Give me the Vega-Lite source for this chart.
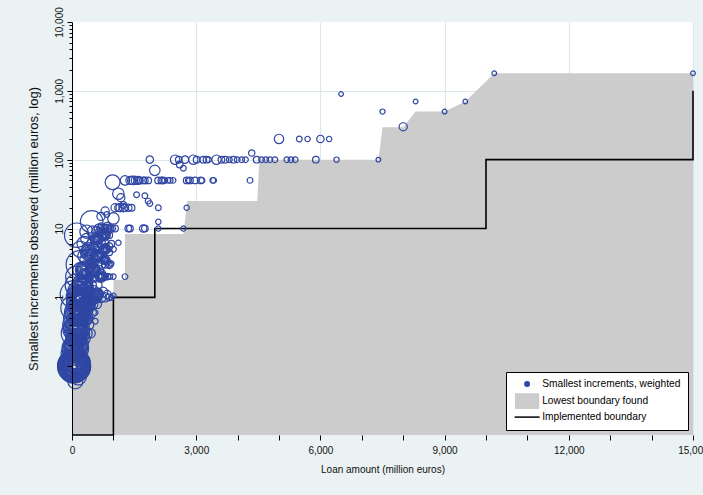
{
  "$schema": "https://vega.github.io/schema/vega-lite/v6.json",
  "width": 621,
  "height": 413,
  "autosize": {"type": "none"},
  "padding": {"left": 72, "top": 22, "right": 10, "bottom": 60},
  "background": "#eaf2f3",
  "config": {
    "view": {"fill": "white", "stroke": null},
    "font": "Liberation Sans",
    "legend": {
      "orient": "bottom-right", "offset": 5, "title": null,
      "strokeColor": "#000", "fillColor": "#fff", "padding": 7,
      "labelFontSize": 10.2, "labelColor": "#000", "labelFont": "Liberation Sans",
      "symbolSize": 20, "symbolStrokeWidth": 1.5, "rowPadding": 0, "labelOffset": 10, "symbolOffset": 9
    }
  },
  "datasets": {
    "bound": [
      {"a": 0, "s": 0.05}, {"a": 150, "s": 0.2}, {"a": 400, "s": 0.6}, {"a": 650, "s": 1},
      {"a": 1000, "s": 1}, {"a": 1001, "s": 1.8}, {"a": 1280, "s": 1.8}, {"a": 1281, "s": 8.3},
      {"a": 2690, "s": 8.3}, {"a": 2785, "s": 25}, {"a": 4475, "s": 25}, {"a": 4525, "s": 100},
      {"a": 7405, "s": 100}, {"a": 7500, "s": 295}, {"a": 8000, "s": 295}, {"a": 8300, "s": 500},
      {"a": 9000, "s": 500}, {"a": 9500, "s": 700}, {"a": 10200, "s": 1800}, {"a": 15000, "s": 1800}
    ],
    "impl": [
      {"i": 1, "a": 0, "s": 0.01}, {"i": 2, "a": 1000, "s": 1}, {"i": 3, "a": 2000, "s": 10}, {"i": 4, "a": 10000, "s": 100}, {"i": 5, "a": 15000, "s": 1000}
    ],
    "pts": [
      {"a": 10200, "s": 1800, "w": 1}, {"a": 15000, "s": 1800, "w": 1}, {"a": 6500, "s": 900, "w": 1}, {"a": 9500, "s": 700, "w": 1},
      {"a": 8300, "s": 700, "w": 1}, {"a": 7500, "s": 500, "w": 1.2}, {"a": 9000, "s": 500, "w": 1}, {"a": 8000, "s": 300, "w": 3},
      {"a": 5000, "s": 200, "w": 4}, {"a": 5490, "s": 200, "w": 1.5}, {"a": 5690, "s": 200, "w": 1.3}, {"a": 6000, "s": 200, "w": 2.5},
      {"a": 6210, "s": 200, "w": 1.3}, {"a": 4340, "s": 125, "w": 1.8},
      {"a": 1880, "s": 100, "w": 2.5}, {"a": 2490, "s": 100, "w": 4}, {"a": 2580, "s": 100, "w": 2}, {"a": 2730, "s": 100, "w": 2.5},
      {"a": 2930, "s": 100, "w": 4}, {"a": 3010, "s": 100, "w": 2}, {"a": 3170, "s": 100, "w": 2}, {"a": 3250, "s": 100, "w": 2},
      {"a": 3300, "s": 100, "w": 1.5}, {"a": 3490, "s": 100, "w": 4}, {"a": 3610, "s": 100, "w": 2}, {"a": 3700, "s": 100, "w": 2},
      {"a": 3800, "s": 100, "w": 1.5}, {"a": 3900, "s": 100, "w": 2}, {"a": 3990, "s": 100, "w": 1.5}, {"a": 4100, "s": 100, "w": 1.5},
      {"a": 4190, "s": 100, "w": 1.5}, {"a": 4460, "s": 100, "w": 2}, {"a": 4580, "s": 100, "w": 1.5}, {"a": 4680, "s": 100, "w": 1.5},
      {"a": 4780, "s": 100, "w": 1.5}, {"a": 4900, "s": 100, "w": 1.5}, {"a": 5190, "s": 100, "w": 1.5}, {"a": 5290, "s": 100, "w": 1.5},
      {"a": 5390, "s": 100, "w": 1.5}, {"a": 5890, "s": 100, "w": 2}, {"a": 6390, "s": 100, "w": 1.3}, {"a": 7400, "s": 100, "w": 1},
      {"a": 2000, "s": 70, "w": 5}, {"a": 2600, "s": 85, "w": 2}, {"a": 2690, "s": 75, "w": 1.5},
      {"a": 980, "s": 47, "w": 10}, {"a": 1280, "s": 50, "w": 4}, {"a": 1400, "s": 50, "w": 3}, {"a": 1440, "s": 50, "w": 3},
      {"a": 1480, "s": 50, "w": 3.5}, {"a": 1530, "s": 50, "w": 3}, {"a": 1600, "s": 50, "w": 3}, {"a": 1640, "s": 50, "w": 2},
      {"a": 1720, "s": 50, "w": 2}, {"a": 1760, "s": 50, "w": 2}, {"a": 1840, "s": 50, "w": 2}, {"a": 2080, "s": 50, "w": 2},
      {"a": 2160, "s": 50, "w": 2}, {"a": 2200, "s": 50, "w": 2}, {"a": 2240, "s": 50, "w": 1.5}, {"a": 2320, "s": 50, "w": 1.5},
      {"a": 2370, "s": 50, "w": 1.5}, {"a": 2440, "s": 50, "w": 1.5}, {"a": 2770, "s": 50, "w": 2}, {"a": 2810, "s": 50, "w": 1.5},
      {"a": 2850, "s": 50, "w": 2}, {"a": 2970, "s": 50, "w": 2}, {"a": 3110, "s": 50, "w": 2}, {"a": 3140, "s": 50, "w": 1.5},
      {"a": 3400, "s": 50, "w": 1.5}, {"a": 3420, "s": 50, "w": 1.5}, {"a": 4300, "s": 50, "w": 1.5},
      {"a": 1120, "s": 32, "w": 6}, {"a": 1180, "s": 28, "w": 3}, {"a": 1560, "s": 31, "w": 1.5}, {"a": 1760, "s": 30, "w": 1.5},
      {"a": 1840, "s": 25, "w": 1.5}, {"a": 1880, "s": 23, "w": 1.5}, {"a": 1240, "s": 22, "w": 2}, {"a": 2770, "s": 20, "w": 1.3},
      {"a": 1040, "s": 20, "w": 3}, {"a": 1120, "s": 20, "w": 2.5}, {"a": 1160, "s": 20, "w": 3}, {"a": 1240, "s": 20, "w": 3},
      {"a": 1280, "s": 20, "w": 2.5}, {"a": 1360, "s": 20, "w": 2.5}, {"a": 1440, "s": 20, "w": 2}, {"a": 2085, "s": 20, "w": 1.5},
      {"a": 840, "s": 16, "w": 1.5}, {"a": 1000, "s": 14, "w": 6}, {"a": 2085, "s": 12.5, "w": 1.3}, {"a": 700, "s": 15, "w": 3},
      {"a": 800, "s": 18, "w": 3}, {"a": 475, "s": 12.5, "w": 23}, {"a": 113, "s": 8, "w": 27},
      {"a": 760, "s": 10, "w": 3}, {"a": 840, "s": 10, "w": 3}, {"a": 920, "s": 10, "w": 2.5}, {"a": 960, "s": 10, "w": 2.5},
      {"a": 1040, "s": 10, "w": 2}, {"a": 1360, "s": 10, "w": 2}, {"a": 1400, "s": 10, "w": 2}, {"a": 1720, "s": 10, "w": 2.5},
      {"a": 1760, "s": 10, "w": 2}, {"a": 2085, "s": 10, "w": 1.3}, {"a": 2690, "s": 10, "w": 1.2},
      {"a": 700, "s": 10, "w": 3}, {"a": 750, "s": 9, "w": 2}, {"a": 800, "s": 10, "w": 1.5}, {"a": 850, "s": 11, "w": 2},
      {"a": 900, "s": 10, "w": 1.5}, {"a": 650, "s": 9, "w": 2}, {"a": 700, "s": 11, "w": 1.5},
      {"a": 600, "s": 9, "w": 5}, {"a": 700, "s": 8, "w": 4}, {"a": 800, "s": 8, "w": 3}, {"a": 850, "s": 9, "w": 2.5},
      {"a": 900, "s": 8, "w": 2}, {"a": 650, "s": 10, "w": 4}, {"a": 500, "s": 9, "w": 6}, {"a": 350, "s": 9, "w": 8},
      {"a": 300, "s": 6, "w": 10}, {"a": 400, "s": 5, "w": 8}, {"a": 500, "s": 6, "w": 6}, {"a": 600, "s": 5.5, "w": 5},
      {"a": 650, "s": 7, "w": 4}, {"a": 700, "s": 6, "w": 4}, {"a": 750, "s": 5, "w": 3.5}, {"a": 800, "s": 6, "w": 3},
      {"a": 850, "s": 5, "w": 2.5}, {"a": 900, "s": 5.5, "w": 2.5}, {"a": 950, "s": 6, "w": 2}, {"a": 1000, "s": 5, "w": 1.5},
      {"a": 1120, "s": 6.2, "w": 1.3}, {"a": 200, "s": 5, "w": 12}, {"a": 350, "s": 7, "w": 6}, {"a": 550, "s": 7, "w": 4},
      {"a": 450, "s": 4, "w": 6}, {"a": 600, "s": 5, "w": 2}, {"a": 700, "s": 5.5, "w": 1.5}, {"a": 800, "s": 5.5, "w": 1.5},
      {"a": 193, "s": 3, "w": 35}, {"a": 350, "s": 3.5, "w": 8}, {"a": 450, "s": 3, "w": 6}, {"a": 550, "s": 3.5, "w": 5},
      {"a": 600, "s": 3, "w": 5}, {"a": 650, "s": 4, "w": 4}, {"a": 700, "s": 3, "w": 4}, {"a": 750, "s": 3.5, "w": 3},
      {"a": 800, "s": 3, "w": 2.5}, {"a": 850, "s": 3.3, "w": 2}, {"a": 950, "s": 3.1, "w": 1.3}, {"a": 500, "s": 4, "w": 5},
      {"a": 300, "s": 4, "w": 8}, {"a": 500, "s": 3, "w": 3}, {"a": 500, "s": 3, "w": 1.5},
      {"a": 100, "s": 2, "w": 20}, {"a": 300, "s": 2, "w": 10}, {"a": 400, "s": 2.2, "w": 8}, {"a": 500, "s": 2, "w": 6},
      {"a": 600, "s": 2, "w": 5}, {"a": 700, "s": 2.2, "w": 4}, {"a": 750, "s": 2, "w": 3}, {"a": 800, "s": 2, "w": 2},
      {"a": 850, "s": 2, "w": 2}, {"a": 920, "s": 2, "w": 1.3}, {"a": 1000, "s": 2, "w": 1.3}, {"a": 1280, "s": 2, "w": 1.5},
      {"a": 200, "s": 2.5, "w": 10}, {"a": 650, "s": 2.5, "w": 4}, {"a": 300, "s": 2, "w": 7}, {"a": 300, "s": 2, "w": 4},
      {"a": 50, "s": 1.1, "w": 35}, {"a": 150, "s": 1.2, "w": 20}, {"a": 250, "s": 1, "w": 15}, {"a": 350, "s": 1.3, "w": 10},
      {"a": 400, "s": 1, "w": 10}, {"a": 500, "s": 1.2, "w": 8}, {"a": 550, "s": 1, "w": 7}, {"a": 600, "s": 1.1, "w": 6},
      {"a": 700, "s": 1, "w": 5}, {"a": 750, "s": 1.2, "w": 4}, {"a": 800, "s": 1, "w": 4}, {"a": 850, "s": 1.1, "w": 3},
      {"a": 900, "s": 1, "w": 2}, {"a": 950, "s": 1, "w": 1.3}, {"a": 1000, "s": 1.05, "w": 1.3}, {"a": 300, "s": 1.5, "w": 10},
      {"a": 450, "s": 1.5, "w": 6}, {"a": 600, "s": 1.5, "w": 5}, {"a": 100, "s": 1.5, "w": 22},
      {"a": 200, "s": 1, "w": 17}, {"a": 200, "s": 1, "w": 13}, {"a": 200, "s": 1, "w": 9}, {"a": 200, "s": 1, "w": 6}, {"a": 200, "s": 1, "w": 3},
      {"a": 400, "s": 1.2, "w": 7}, {"a": 400, "s": 1.2, "w": 4}, {"a": 400, "s": 1.2, "w": 2},
      {"a": 30, "s": 0.7, "w": 28}, {"a": 120, "s": 0.8, "w": 20}, {"a": 200, "s": 0.6, "w": 15}, {"a": 300, "s": 0.7, "w": 10},
      {"a": 400, "s": 0.8, "w": 8}, {"a": 450, "s": 0.6, "w": 6}, {"a": 560, "s": 0.6, "w": 1.5}, {"a": 560, "s": 0.45, "w": 1.5},
      {"a": 500, "s": 0.8, "w": 5}, {"a": 350, "s": 0.5, "w": 8}, {"a": 250, "s": 0.9, "w": 10}, {"a": 80, "s": 0.5, "w": 25},
      {"a": 600, "s": 0.8, "w": 4}, {"a": 300, "s": 0.8, "w": 8}, {"a": 300, "s": 0.8, "w": 5}, {"a": 300, "s": 0.8, "w": 3},
      {"a": 150, "s": 0.5, "w": 15}, {"a": 150, "s": 0.5, "w": 11}, {"a": 150, "s": 0.5, "w": 8}, {"a": 150, "s": 0.5, "w": 5}, {"a": 150, "s": 0.5, "w": 3},
      {"a": 40, "s": 0.3, "w": 28}, {"a": 150, "s": 0.35, "w": 15}, {"a": 250, "s": 0.3, "w": 10}, {"a": 350, "s": 0.3, "w": 6},
      {"a": 400, "s": 0.4, "w": 5}, {"a": 100, "s": 0.2, "w": 25}, {"a": 200, "s": 0.22, "w": 12}, {"a": 300, "s": 0.25, "w": 6},
      {"a": 450, "s": 0.3, "w": 4}, {"a": 30, "s": 0.4, "w": 20},
      {"a": 100, "s": 0.25, "w": 20}, {"a": 100, "s": 0.25, "w": 16}, {"a": 100, "s": 0.25, "w": 12}, {"a": 100, "s": 0.25, "w": 9},
      {"a": 100, "s": 0.25, "w": 6}, {"a": 100, "s": 0.25, "w": 4}, {"a": 100, "s": 0.25, "w": 2},
      {"a": 50, "s": 0.1, "w": 50}, {"a": 40, "s": 0.1, "w": 45}, {"a": 60, "s": 0.11, "w": 40}, {"a": 30, "s": 0.09, "w": 35},
      {"a": 70, "s": 0.1, "w": 30}, {"a": 50, "s": 0.12, "w": 25}, {"a": 40, "s": 0.1, "w": 20}, {"a": 60, "s": 0.09, "w": 15},
      {"a": 50, "s": 0.1, "w": 10}, {"a": 45, "s": 0.11, "w": 6}, {"a": 50, "s": 0.1, "w": 3},
      {"a": 100, "s": 0.12, "w": 30}, {"a": 20, "s": 0.15, "w": 25}, {"a": 200, "s": 0.1, "w": 15}, {"a": 150, "s": 0.07, "w": 12},
      {"a": 300, "s": 0.12, "w": 6}, {"a": 80, "s": 0.06, "w": 10},
      {"a": 60, "s": 0.1, "w": 47}, {"a": 60, "s": 0.1, "w": 42}, {"a": 60, "s": 0.1, "w": 38}, {"a": 60, "s": 0.1, "w": 34}, {"a": 60, "s": 0.1, "w": 30},
      {"a": 60, "s": 0.1, "w": 26}, {"a": 60, "s": 0.1, "w": 22}, {"a": 60, "s": 0.1, "w": 19}, {"a": 60, "s": 0.1, "w": 16}, {"a": 60, "s": 0.1, "w": 13},
      {"a": 60, "s": 0.1, "w": 10}, {"a": 60, "s": 0.1, "w": 8}, {"a": 60, "s": 0.1, "w": 6}, {"a": 60, "s": 0.1, "w": 4}, {"a": 60, "s": 0.1, "w": 2}, {"a": 60, "s": 0.1, "w": 1},
      {"a": 80, "s": 0.18, "w": 32}, {"a": 80, "s": 0.18, "w": 27}, {"a": 80, "s": 0.18, "w": 22}, {"a": 80, "s": 0.18, "w": 18}, {"a": 80, "s": 0.18, "w": 14},
      {"a": 80, "s": 0.18, "w": 11}, {"a": 80, "s": 0.18, "w": 8}, {"a": 80, "s": 0.18, "w": 5}, {"a": 80, "s": 0.18, "w": 3}, {"a": 80, "s": 0.18, "w": 1.5},
      {"a": 100, "s": 0.35, "w": 32}, {"a": 100, "s": 0.35, "w": 27}, {"a": 100, "s": 0.35, "w": 22}, {"a": 100, "s": 0.35, "w": 18}, {"a": 100, "s": 0.35, "w": 14},
      {"a": 100, "s": 0.35, "w": 11}, {"a": 100, "s": 0.35, "w": 8}, {"a": 100, "s": 0.35, "w": 5}, {"a": 100, "s": 0.35, "w": 3}, {"a": 100, "s": 0.35, "w": 1.5},
      {"a": 140, "s": 0.6, "w": 32}, {"a": 140, "s": 0.6, "w": 27}, {"a": 140, "s": 0.6, "w": 22}, {"a": 140, "s": 0.6, "w": 18}, {"a": 140, "s": 0.6, "w": 14},
      {"a": 140, "s": 0.6, "w": 11}, {"a": 140, "s": 0.6, "w": 8}, {"a": 140, "s": 0.6, "w": 5}, {"a": 140, "s": 0.6, "w": 3}, {"a": 140, "s": 0.6, "w": 1.5},
      {"a": 170, "s": 1, "w": 30}, {"a": 170, "s": 1, "w": 25}, {"a": 170, "s": 1, "w": 20}, {"a": 170, "s": 1, "w": 16}, {"a": 170, "s": 1, "w": 12},
      {"a": 170, "s": 1, "w": 9}, {"a": 170, "s": 1, "w": 6}, {"a": 170, "s": 1, "w": 4}, {"a": 170, "s": 1, "w": 2},
      {"a": 300, "s": 0.5, "w": 12}, {"a": 300, "s": 0.5, "w": 9}, {"a": 300, "s": 0.5, "w": 6}, {"a": 300, "s": 0.5, "w": 3},
      {"a": 250, "s": 1.5, "w": 20}, {"a": 250, "s": 1.5, "w": 16}, {"a": 250, "s": 1.5, "w": 12}, {"a": 250, "s": 1.5, "w": 9}, {"a": 250, "s": 1.5, "w": 6}, {"a": 250, "s": 1.5, "w": 3},
      {"a": 350, "s": 0.8, "w": 15}, {"a": 350, "s": 0.8, "w": 12}, {"a": 350, "s": 0.8, "w": 9}, {"a": 350, "s": 0.8, "w": 6}, {"a": 350, "s": 0.8, "w": 3},
      {"a": 450, "s": 1, "w": 12}, {"a": 450, "s": 1, "w": 9}, {"a": 450, "s": 1, "w": 6}, {"a": 450, "s": 1, "w": 4}, {"a": 450, "s": 1, "w": 2},
      {"a": 600, "s": 1.1, "w": 8}, {"a": 600, "s": 1.1, "w": 6}, {"a": 600, "s": 1.1, "w": 4}, {"a": 600, "s": 1.1, "w": 2},
      {"a": 300, "s": 2.5, "w": 15}, {"a": 300, "s": 2.5, "w": 12}, {"a": 300, "s": 2.5, "w": 9}, {"a": 300, "s": 2.5, "w": 6}, {"a": 300, "s": 2.5, "w": 3},
      {"a": 500, "s": 2.5, "w": 10}, {"a": 500, "s": 2.5, "w": 8}, {"a": 500, "s": 2.5, "w": 6}, {"a": 500, "s": 2.5, "w": 4}, {"a": 500, "s": 2.5, "w": 2},
      {"a": 700, "s": 2, "w": 6}, {"a": 700, "s": 2, "w": 4}, {"a": 700, "s": 2, "w": 2.5}, {"a": 700, "s": 2, "w": 1.2},
      {"a": 400, "s": 4.5, "w": 12}, {"a": 400, "s": 4.5, "w": 9}, {"a": 400, "s": 4.5, "w": 6}, {"a": 400, "s": 4.5, "w": 4}, {"a": 400, "s": 4.5, "w": 2},
      {"a": 600, "s": 4, "w": 8}, {"a": 600, "s": 4, "w": 6}, {"a": 600, "s": 4, "w": 4}, {"a": 600, "s": 4, "w": 2},
      {"a": 800, "s": 5, "w": 5}, {"a": 800, "s": 5, "w": 3.5}, {"a": 800, "s": 5, "w": 2}, {"a": 800, "s": 5, "w": 1},
      {"a": 600, "s": 7, "w": 6}, {"a": 600, "s": 7, "w": 4}, {"a": 600, "s": 7, "w": 2.5}, {"a": 600, "s": 7, "w": 1.2},
      {"a": 800, "s": 8, "w": 5}, {"a": 800, "s": 8, "w": 3.5}, {"a": 800, "s": 8, "w": 2}, {"a": 800, "s": 8, "w": 1},
      {"a": 800, "s": 3.5, "w": 4}, {"a": 800, "s": 3.5, "w": 2.5}, {"a": 800, "s": 3.5, "w": 1.2},
      {"a": 900, "s": 3, "w": 3}, {"a": 900, "s": 3, "w": 1.5}, {"a": 700, "s": 4, "w": 2}, {"a": 900, "s": 4.5, "w": 2}
    ]
  },
  "layer": [
    {
      "data": {"name": "bound"},
      "mark": {"type": "area", "interpolate": "linear", "opacity": 1},
      "encoding": {
        "x": {
          "field": "a", "type": "quantitative",
          "scale": {"domain": [0, 15000], "nice": false, "zero": false},
          "axis": {
            "values": [0, 1000, 2000, 3000, 4000, 5000, 6000, 7000, 8000, 9000, 10000, 11000, 12000, 13000, 14000, 15000],
            "labelExpr": "datum.value % 3000 === 0 ? format(datum.value, ',') : ''",
            "labelFlush": false, "labelOverlap": false, "domain": false,
            "tickColor": "#000", "tickSize": 5, "tickWidth": 1,
            "labelFontSize": 10, "labelColor": "#111", "labelPadding": 5,
            "title": "Loan amount (million euros)", "titleFontSize": 10, "titleFontWeight": "normal", "titleColor": "#111", "titlePadding": 9,
            "grid": true,
            "gridColor": {"condition": {"test": "datum.value % 3000 === 0", "value": "#dbe8eb"}, "value": "transparent"},
            "gridWidth": 1.2
          }
        },
        "y": {
          "field": "s", "type": "quantitative",
          "scale": {"type": "log", "domain": [0.01, 10000], "nice": false},
          "axis": {
            "orient": "left", "zindex": 1,
            "values": [0.1, 1, 10, 100, 1000, 10000],
            "labelExpr": "datum.value >= 1 ? format(datum.value, ',') : ''",
            "labelAngle": -90, "labelAlign": "center", "labelBaseline": "bottom",
            "labelFontSize": 10, "labelColor": "#111", "labelPadding": 3,
            "labelFlush": false, "labelOverlap": false,
            "tickSize": 5, "tickColor": "#000", "tickWidth": 1,
            "domainColor": "#000", "domainWidth": 1, "grid": false,
            "title": "Smallest increments observed (million euros, log)",
            "titleFontSize": 13, "titleFontWeight": "normal", "titleColor": "#111", "titlePadding": 14
          }
        },
        "y2": {"datum": 0.01},
        "color": {
          "datum": "Lowest boundary found",
          "scale": {
            "domain": ["Smallest increments, weighted", "Lowest boundary found", "Implemented boundary"],
            "range": ["#2f46a3", "#cccccc", "#000000"]
          }
        }
      }
    },
    {
      "data": {"name": "impl"},
      "mark": {"type": "line", "interpolate": "step-after", "strokeWidth": 1.6},
      "encoding": {
        "x": {"field": "a", "type": "quantitative"},
        "y": {
          "field": "s", "type": "quantitative",
          "axis": {"orient": "left", "zindex": 0, "values": [1, 10, 100, 1000], "grid": true, "gridColor": "#dbe8eb", "gridWidth": 1.2, "ticks": false, "labels": false, "domain": false, "title": null}
        },
        "order": {"field": "i", "type": "quantitative"},
        "color": {"datum": "Implemented boundary"}
      }
    },
    {
      "data": {"name": "pts"},
      "mark": {"type": "point", "filled": false, "strokeWidth": 1.2, "opacity": 1},
      "encoding": {
        "x": {"field": "a", "type": "quantitative"},
        "y": {
          "field": "s", "type": "quantitative",
          "axis": {
            "orient": "left", "zindex": 1,
            "values": [0.2, 0.3, 0.4, 0.5, 0.6, 0.7, 0.8, 0.9, 2, 3, 4, 5, 6, 7, 8, 9, 20, 30, 40, 50, 60, 70, 80, 90, 200, 300, 400, 500, 600, 700, 800, 900, 2000, 3000, 4000, 5000, 6000, 7000, 8000, 9000],
            "labels": false, "tickSize": 3, "tickColor": "#000", "domain": false, "grid": false, "title": null
          }
        },
        "size": {"field": "w", "type": "quantitative", "scale": {"type": "linear", "domain": [0, 50], "range": [0, 1100]}, "legend": null},
        "shape": {
          "datum": "Smallest increments, weighted",
          "scale": {
            "domain": ["Smallest increments, weighted", "Lowest boundary found", "Implemented boundary"],
            "range": ["circle", "M-5.1,-3.2H5.1V3.2H-5.1Z", "M-5.6,0H5.6"]
          }
        },
        "color": {"datum": "Smallest increments, weighted"}
      }
    }
  ],
  "resolve": {"axis": {"y": "independent"}}
}
